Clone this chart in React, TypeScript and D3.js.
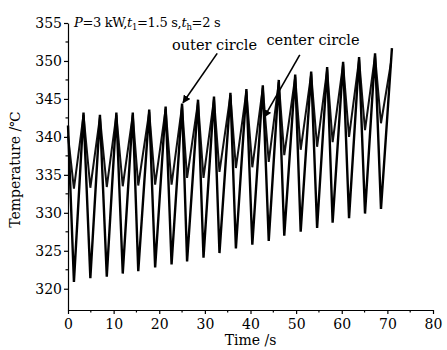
import * as d3 from "d3";
import React, { useRef, useEffect } from "react";

// times of the troughs and peaks (s)
const troughTimes = [1.3, 4.9, 8.5, 12.0, 15.4, 19.1, 22.7, 26.1, 29.7, 33.2, 36.8, 40.4, 44.0, 47.4, 51.0, 54.6, 58.0, 61.6, 65.1, 68.6];
const peakTimes = [3.4, 7.0, 10.6, 14.2, 17.8, 21.4, 25.0, 28.5, 32.0, 35.6, 39.1, 42.7, 46.2, 49.8, 53.3, 56.8, 60.3, 63.8, 67.3];

const outerTroughs = [320.9, 321.4, 321.6, 322.0, 322.3, 322.8, 323.2, 323.6, 324.1, 324.7, 325.3, 325.8, 326.3, 327.0, 327.5, 328.0, 328.7, 329.3, 329.9, 330.5];
const outerPeaks = [343.2, 342.9, 343.2, 343.2, 343.6, 344.0, 344.4, 344.9, 345.3, 345.8, 346.3, 346.8, 347.5, 348.2, 348.6, 349.2, 349.9, 350.5, 351.0];
const outerStart = { t: 0, v: 341.5 };
const outerEnd = { t: 71.0, v: 351.7 };

const centerTroughs = [333.2, 333.3, 333.4, 333.5, 333.6, 333.7, 333.7, 334.6, 334.6, 335.4, 335.9, 336.0, 336.7, 337.6, 338.3, 338.7, 339.3, 340.0, 340.9, 341.8];
const centerPeaks = [342.9, 342.6, 342.9, 342.9, 343.3, 343.7, 344.1, 344.6, 345.0, 345.5, 346.0, 346.5, 347.2, 347.9, 348.3, 348.9, 349.6, 350.2, 350.7];
const centerStart = { t: 0, v: 340.2 };
const centerEnd = { t: 70.8, v: 349.8 };

const xTicks = [0, 10, 20, 30, 40, 50, 60, 70, 80];
const yTicks = [320, 325, 330, 335, 340, 345, 350, 355];

interface Pt { t: number; v: number; }

function buildSeries(start: Pt, troughs: number[], peaks: number[], end: Pt): Pt[] {
  const pts: Pt[] = [start];
  troughTimes.forEach((t, i) => {
    pts.push({ t, v: troughs[i] });
    if (i < peakTimes.length) pts.push({ t: peakTimes[i], v: peaks[i] });
  });
  pts.push(end);
  return pts;
}

const App: React.FC = () => {
  const svgRef = useRef<SVGSVGElement>(null);

  useEffect(() => {
    const svg = d3.select(svgRef.current);
    svg.selectAll("*").remove();

    const width = 447;
    const height = 350;
    const font = "'DejaVu Serif', serif";

    const x = d3.scaleLinear().domain([0, 80]).range([68, 433]);
    const y = d3.scaleLinear().domain([317.2, 355]).range([310, 23]);

    svg.attr("width", width).attr("height", height).attr("viewBox", `0 0 ${width} ${height}`);

    svg.append("rect").attr("width", width).attr("height", height).attr("fill", "white");

    const outer = buildSeries(outerStart, outerTroughs, outerPeaks, outerEnd);
    const center = buildSeries(centerStart, centerTroughs, centerPeaks, centerEnd);

    const line = d3.line<Pt>().x(d => x(d.t)).y(d => y(d.v));

    svg.append("path")
      .datum(center)
      .attr("fill", "none")
      .attr("stroke", "#111")
      .attr("stroke-width", 2)
      .attr("stroke-linejoin", "miter")
      .attr("d", line);

    svg.append("path")
      .datum(outer)
      .attr("fill", "none")
      .attr("stroke", "#000")
      .attr("stroke-width", 2.4)
      .attr("stroke-linejoin", "miter")
      .attr("d", line);

    // axes
    const xAxis = svg.append("g")
      .attr("transform", `translate(0,${y(317.2)})`)
      .call(d3.axisBottom(x).tickValues(xTicks).tickSize(4).tickSizeOuter(0).tickFormat(d3.format("d")));
    xAxis.selectAll(".tick text").attr("font-family", font).attr("font-size", 14).attr("dy", "0.85em");
    xAxis.select(".domain").attr("stroke-width", 1.2);
    xAxis.selectAll(".tick line").attr("stroke-width", 1.2);
    xAxis.selectAll(".minor")
      .data(d3.range(5, 80, 10))
      .join("line")
      .attr("x1", d => x(d)).attr("x2", d => x(d))
      .attr("y1", 0).attr("y2", 2.5)
      .attr("stroke", "black").attr("stroke-width", 1.2);

    const yAxis = svg.append("g")
      .attr("transform", `translate(${x(0)},0)`)
      .call(d3.axisLeft(y).tickValues(yTicks).tickSize(4).tickSizeOuter(0).tickFormat(d3.format("d")));
    yAxis.selectAll(".tick text").attr("font-family", font).attr("font-size", 14).attr("x", -6);
    yAxis.select(".domain").attr("stroke-width", 1.2);
    yAxis.selectAll(".tick line").attr("stroke-width", 1.2);
    yAxis.selectAll(".minor")
      .data(d3.range(322.5, 355, 5))
      .join("line")
      .attr("y1", d => y(d)).attr("y2", d => y(d))
      .attr("x1", 0).attr("x2", -2.5)
      .attr("stroke", "black").attr("stroke-width", 1.2);

    // axis titles
    svg.append("text")
      .attr("x", (x(0) + x(80)) / 2)
      .attr("y", 345)
      .attr("text-anchor", "middle")
      .attr("font-family", font)
      .attr("font-size", 14)
      .text("Time /s");

    svg.append("text")
      .attr("transform", `translate(20,${(y(355) + y(317.2)) / 2 + 3}) rotate(-90)`)
      .attr("text-anchor", "middle")
      .attr("font-family", font)
      .attr("font-size", 14)
      .text("Temperature /℃");

    // condition label
    const cond = svg.append("text")
      .attr("x", x(1.3))
      .attr("y", y(354.5))
      .attr("font-family", font)
      .attr("font-size", 13)
      .attr("letter-spacing", -0.3);
    cond.append("tspan").attr("font-style", "italic").text("P");
    cond.append("tspan").text("=3 kW,");
    cond.append("tspan").attr("font-style", "italic").text("t");
    cond.append("tspan").attr("font-size", 8.5).attr("dy", 3).text("1");
    cond.append("tspan").attr("dy", -3).text("=1.5 s,");
    cond.append("tspan").attr("font-style", "italic").text("t");
    cond.append("tspan").attr("font-size", 8.5).attr("dy", 3).text("h");
    cond.append("tspan").attr("dy", -3).text("=2 s");

    // annotations
    const notes = [
      { label: "outer circle", tx: 22.8, tv: 351.4, x1: 32.7, v1: 351.0, x2: 25.2, v2: 344.5 },
      { label: "center circle", tx: 43.5, tv: 352.1, x1: 50.8, v1: 350.8, x2: 43.0, v2: 342.6 },
    ];

    svg.append("defs").append("marker")
      .attr("id", "arrow")
      .attr("viewBox", "0 0 10 10")
      .attr("refX", 9).attr("refY", 5)
      .attr("markerWidth", 5).attr("markerHeight", 5)
      .attr("orient", "auto")
      .append("path")
      .attr("d", "M0,0L10,5L0,10z")
      .attr("fill", "black");

    notes.forEach(n => {
      svg.append("text")
        .attr("x", x(n.tx))
        .attr("y", y(n.tv))
        .attr("font-family", font)
        .attr("font-size", 14.5)
        .text(n.label);
      svg.append("line")
        .attr("x1", x(n.x1)).attr("y1", y(n.v1))
        .attr("x2", x(n.x2)).attr("y2", y(n.v2))
        .attr("stroke", "black")
        .attr("stroke-width", 1.6)
        .attr("marker-end", "url(#arrow)");
    });
  }, []);

  return <svg ref={svgRef} style={{ position: "absolute", left: 0, top: 0 }}></svg>;
};

export default App;
